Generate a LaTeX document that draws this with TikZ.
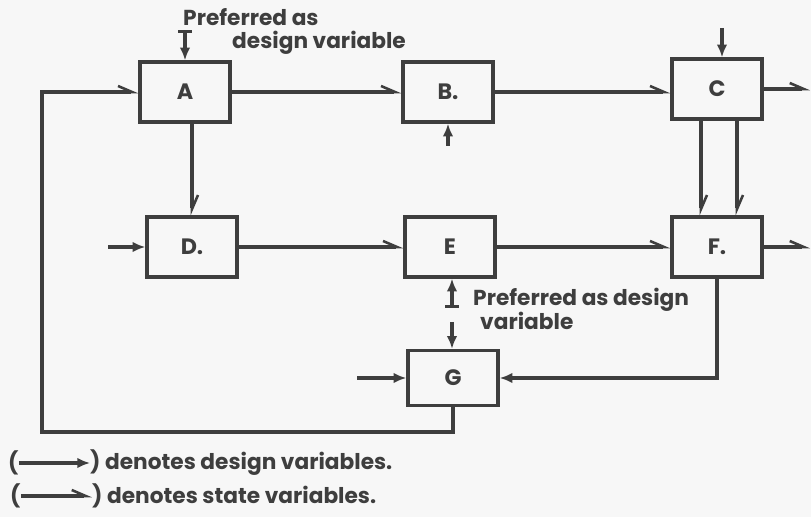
\documentclass[tikz,border=0pt]{standalone}
\usepackage{fontspec}
\setmainfont{Poppins}
\usepackage{tikz}
\usetikzlibrary{arrows.meta,calc,positioning}
\definecolor{ink}{RGB}{62,62,62}
\definecolor{paper}{RGB}{247,247,247}
\tikzset{
  blk/.style={draw=ink,line width=2.9pt,minimum width=2.7cm,minimum height=1.8cm,
    inner sep=0pt,text=ink,font=\fontsize{19}{22}\selectfont\bfseries},
  design/.style={-{Latex[length=3.8mm,width=3.2mm]},draw=ink,line width=2.9pt},
  state/.style={-{Straight Barb[left,length=4.2mm,width=3.6mm,line width=2.2pt]},draw=ink,line width=2.9pt},
  note/.style={text=ink,font=\fontsize{18.5}{21}\selectfont\bfseries,inner sep=0pt}
}
\begin{document}
\begin{tikzpicture}[x=0.03cm,y=-0.03cm]
  \fill[paper] (0,0) rectangle (811,517);
  \useasboundingbox (0,0) rectangle (811,517);
  \node[blk] (A) at (185,92) {A};
  \node[blk] (B) at (448,92) {B.};
  \node[blk] (C) at (717,89) {C};
  \node[blk] (D) at (192,247) {D.};
  \node[blk] (E) at (450,247) {E};
  \node[blk] (F) at (717,247) {F.};
  \node[blk,minimum height=1.65cm] (G) at (453,378) {G};
  \coordinate (atop) at (185,30);
  \coordinate (bin) at (448,146);
  \coordinate (cin) at (722,28);
  \coordinate (cout) at (810,89);
  \coordinate (din) at (108,247);
  \coordinate (fout) at (810,247);
  \coordinate (ebar) at (452,308);
  \coordinate (gin) at (452,322);
  \coordinate (gleft) at (357,378);
  \coordinate (loop) at (42,432);
  \node[note,anchor=west] (prefa1) at (183,17) {Preferred as};
  \node[note,anchor=west] (prefa2) at (232,43) {design variable};
  \node[note,anchor=west] (prefe1) at (473,300) {Preferred as design};
  \node[note,anchor=west] (prefe2) at (480,321) {variable};
  \draw[design,{Bar[width=4mm]}-{Latex[length=3.8mm,width=3.2mm]}] (atop) -- (A);
  \draw[state] (A) -- (B);
  \draw[state] (B) -- (B -| C.west);
  \draw[design] (cin) -- (cin |- C.north);
  \draw[state] (C) -- (cout);
  \draw[design] (bin) -- (B);
  \draw[state] (A.south -| D) -- (D);
  \draw[state] ($(C.south)+(-16,0)$) -- ($(F.north)+(-16,0)$);
  \draw[state] ($(C.south)+(20,0)$) -- ($(F.north)+(20,0)$);
  \draw[design] (din) -- (D);
  \draw[state] (D) -- (E);
  \draw[state] (E) -- (F);
  \draw[state] (F) -- (fout);
  \draw[design] (F.south) |- (G.east);
  \draw[design,{Bar[width=4mm]}-{Latex[length=3.8mm,width=3.2mm]}] (ebar) -- (ebar |- E.south);
  \draw[design] (gin) -- (gin |- G.north);
  \draw[design] (gleft) -- (G);
  \draw[state] (G.south) |- (loop) |- (A.west);
  \node[note,anchor=west] (lgp1) at (8,463) {(};
  \node[note,anchor=west] (lgd1) at (90,463) {) denotes design variables.};
  \draw[design] (lgp1.east) -- (lgd1.west);
  \node[note,anchor=west] (lgp2) at (10,496) {(};
  \node[note,anchor=west] (lgd2) at (92,496) {) denotes state variables.};
  \draw[state] (lgp2.east) -- (lgd2.west);
\end{tikzpicture}
\end{document}
